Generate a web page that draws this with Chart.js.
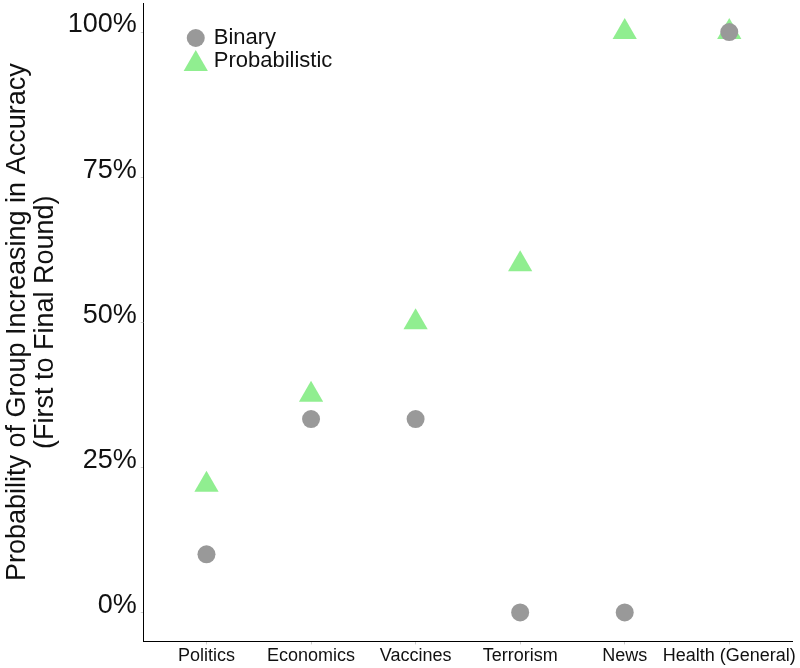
<!DOCTYPE html>
<html>
<head>
<meta charset="utf-8">
<script src="https://cdn.jsdelivr.net/npm/chart.js@4"></script>
<style>
  html, body { margin: 0; padding: 0; background: #fff; }
  #wrap { width: 800px; height: 668px; }
</style>
</head>
<body>
<div id="wrap"><canvas id="accChart" width="800" height="668"></canvas></div>
<script>
// categories and values (percent)
const categories = ['Politics', 'Economics', 'Vaccines', 'Terrorism', 'News', 'Health (General)'];
const binaryValues = [10, 33.3, 33.3, 0, 0, 100];
const probabilisticValues = [22, 37.5, 50, 60, 100, 100];
const yTickValues = [0, 25, 50, 75, 100];

const FONT = "'Liberation Sans', Arial, sans-serif";

// legend drawn inside the plot, top left (icons keep their plot sizes)
const innerLegend = {
    id: 'innerLegend',
    afterDraw(chart) {
        const ctx = chart.ctx;
        const area = chart.chartArea;
        const x = area.left + 52;
        let y = area.top + 35;
        chart.data.datasets.forEach(ds => {
            ctx.save();
            ctx.fillStyle = ds.backgroundColor;
            ctx.strokeStyle = ds.backgroundColor;
            Chart.helpers.drawPoint(ctx, {
                pointStyle: ds.pointStyle,
                radius: ds.pointRadius,
                borderWidth: 0
            }, x, y + (ds.pointStyle === 'triangle' ? 3 : 0));
            ctx.fillStyle = '#111';
            ctx.font = '22px ' + FONT;
            ctx.textBaseline = 'middle';
            ctx.fillText(ds.label, x + 18, y);
            ctx.restore();
            y += 23;
        });
    }
};

const ctx = document.getElementById('accChart').getContext('2d');
new Chart(ctx, {
    type: 'scatter',
    data: {
        datasets: [
            {
                label: 'Binary',
                data: binaryValues.map((v, i) => ({ x: i, y: v })),
                pointStyle: 'circle',
                pointRadius: 9,
                backgroundColor: '#999999',
                borderWidth: 0
            },
            {
                label: 'Probabilistic',
                data: probabilisticValues.map((v, i) => ({ x: i, y: v })),
                pointStyle: 'triangle',
                pointRadius: 14,
                backgroundColor: '#90EE90',
                borderWidth: 0
            }
        ]
    },
    options: {
        responsive: false,
        animation: false,
        layout: { autoPadding: false, padding: { top: 3, right: 8, left: 0, bottom: 0 } },
        plugins: {
            legend: { display: false },
            tooltip: { enabled: false }
        },
        scales: {
            x: {
                type: 'linear',
                min: -0.6,
                max: 5.6,
                afterBuildTicks: axis => { axis.ticks = categories.map((c, i) => ({ value: i })); },
                afterFit: axis => { axis.paddingRight = 0; },
                ticks: {
                    autoSkip: false,
                    maxRotation: 0,
                    color: '#111',
                    font: { family: FONT, size: 18 },
                    padding: 1,
                    callback: v => categories[v]
                },
                grid: { drawOnChartArea: false, color: '#cccccc', tickLength: 3 },
                border: { color: '#000', width: 1 }
            },
            y: {
                min: -5,
                max: 105,
                afterBuildTicks: axis => { axis.ticks = yTickValues.map(v => ({ value: v })); },
                afterFit: axis => { axis.paddingTop = 0; axis.paddingBottom = 0; },
                ticks: {
                    color: '#111',
                    font: { family: FONT, size: 27 },
                    padding: 4,
                    labelOffset: -7,
                    callback: v => v + '%'
                },
                grid: { drawOnChartArea: false, color: '#cccccc', tickLength: 3 },
                border: { color: '#000', width: 1 },
                title: {
                    display: true,
                    text: ['Probability of Group Increasing in Accuracy', '(First to Final Round)'],
                    color: '#111',
                    font: { family: FONT, size: 27, lineHeight: 1.05 },
                    padding: { top: 3, bottom: 4 }
                }
            }
        }
    },
    plugins: [innerLegend]
});
</script>
</body>
</html>
